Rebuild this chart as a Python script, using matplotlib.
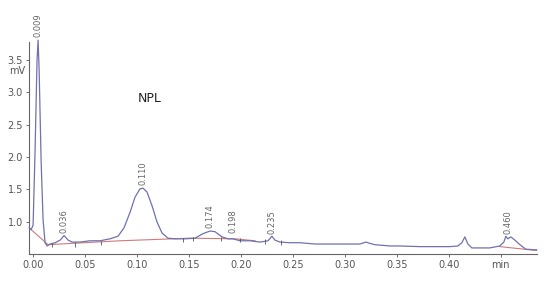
import matplotlib
matplotlib.use("Agg")
import matplotlib.pyplot as plt

# --- Trace (time in min, signal in mV) ---
time = [-0.0038, -0.0019, 0.0, 0.0019, 0.0038, 0.0048, 0.0058, 0.0077, 0.0096,
        0.0115, 0.0135, 0.0163, 0.0212, 0.026, 0.0298, 0.0337, 0.0375, 0.0452,
        0.0548, 0.0644, 0.074, 0.0817, 0.0875, 0.0933, 0.098, 0.1029, 0.1058,
        0.1096, 0.1144, 0.1192, 0.124, 0.1298, 0.1365, 0.1462, 0.1558, 0.1635,
        0.1702, 0.175, 0.1817, 0.1875, 0.1923, 0.199, 0.2087, 0.2183, 0.226,
        0.2298, 0.2327, 0.2375, 0.2471, 0.2567, 0.2712, 0.2856, 0.30, 0.3144,
        0.3202, 0.324, 0.3288, 0.3433, 0.3529, 0.3721, 0.401, 0.4087, 0.4125,
        0.4154, 0.4183, 0.4221, 0.4394, 0.449, 0.4529, 0.4548, 0.4567, 0.4596,
        0.4635, 0.4683, 0.474, 0.4846]
signal = [0.91, 0.88, 0.95, 2.10, 3.50, 3.80, 3.34, 1.95, 1.03,
          0.68, 0.63, 0.66, 0.68, 0.72, 0.79, 0.72, 0.69, 0.69,
          0.71, 0.71, 0.74, 0.78, 0.91, 1.15, 1.38, 1.51, 1.52,
          1.46, 1.25, 1.00, 0.83, 0.75, 0.74, 0.74, 0.75, 0.82,
          0.86, 0.85, 0.77, 0.74, 0.74, 0.71, 0.71, 0.69, 0.71,
          0.78, 0.72, 0.69, 0.68, 0.68, 0.66, 0.66, 0.66, 0.66,
          0.69, 0.67, 0.65, 0.63, 0.63, 0.62, 0.62, 0.63, 0.68,
          0.77, 0.66, 0.60, 0.60, 0.63, 0.69, 0.78, 0.74, 0.77,
          0.72, 0.65, 0.58, 0.57]

# integration baselines (red)
base1_t = [-0.0038, 0.0144, 0.0837, 0.1510, 0.1942, 0.2135]
base1_v = [0.91, 0.65, 0.71, 0.75, 0.74, 0.71]
base2_t = [0.4490, 0.4846]
base2_v = [0.62, 0.56]

# drop-line markers along the baseline
mark_t = [0.0183, 0.0404, 0.0654, 0.1442, 0.1538, 0.1808, 0.1990, 0.2231, 0.2385]
mark_v = [0.66, 0.67, 0.69, 0.74, 0.75, 0.75, 0.74, 0.71, 0.70]

# peak labels
peak_t = [0.0048, 0.0298, 0.1058, 0.1702, 0.1923, 0.2298, 0.4567]
peak_top = [3.84, 0.83, 1.57, 0.91, 0.83, 0.82, 0.82]
peak_lbl = ["0.009", "0.036", "0.110", "0.174", "0.198", "0.235", "0.460"]

xticks = [0.0, 0.05, 0.10, 0.15, 0.20, 0.25, 0.30, 0.35, 0.40, 0.45]
xtick_lbl = ["0.00", "0.05", "0.10", "0.15", "0.20", "0.25", "0.30", "0.35", "0.40", "min"]
yticks = [1.0, 1.5, 2.0, 2.5, 3.0, 3.5]
ytick_lbl = ["1.0", "1.5", "2.0", "2.5", "3.0", "3.5"]

fig = plt.figure(figsize=(5.5, 2.84), dpi=100)
ax = fig.add_axes([0.053, 0.106, 0.923, 0.746])

ax.plot(base1_t, base1_v, color="#d07a7a", lw=0.8, zorder=2)
ax.plot(base2_t, base2_v, color="#d07a7a", lw=0.8, zorder=2)
ax.plot(time, signal, color="#6e72ae", lw=0.9, zorder=3, clip_on=False)
ax.vlines(mark_t, [v - 0.05 for v in mark_v], [v + 0.02 for v in mark_v],
          color="#555555", lw=0.6, zorder=4)

for t, v, s in zip(peak_t, peak_top, peak_lbl):
    ax.text(t, v, s, rotation=90, ha="center", va="bottom", fontsize=6,
            color="#666666", clip_on=False)

ax.text(0.101, 2.85, "NPL", fontsize=9, color="#222222")
# unit label under the top y tick
ax.text(-0.0075, 3.33, "mV", fontsize=7, color="#555555", ha="right", va="center",
        clip_on=False)

ax.set_xlim(-0.0038, 0.4846)
ax.set_ylim(0.508, 3.77)
ax.set_xticks(xticks)
ax.set_xticklabels(xtick_lbl)
ax.set_yticks(yticks)
ax.set_yticklabels(ytick_lbl)
ax.tick_params(axis="both", labelsize=7, colors="#555555", length=2.5, width=0.6, pad=2)
for side in ("top", "right"):
    ax.spines[side].set_visible(False)
for side in ("left", "bottom"):
    ax.spines[side].set_color("#666666")
    ax.spines[side].set_linewidth(0.8)

fig.savefig("out.png", dpi=100)
